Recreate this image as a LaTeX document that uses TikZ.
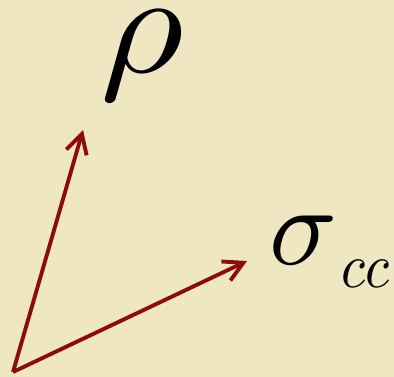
\documentclass[tikz,border=0pt]{standalone}
\usepackage{graphicx}
\usepackage{tikz}
\usetikzlibrary{positioning,arrows.meta}
\definecolor{parch}{RGB}{239,230,194}
\definecolor{vecred}{RGB}{140,12,12}

\begin{document}
\begin{tikzpicture}[x=0.02cm, y=-0.02cm,
    vec/.style={vecred, line width=2.2pt, -{Straight Barb[length=11pt, width=12pt, line width=2.2pt]}},
    lbl/.style={inner sep=0pt, anchor=base west}]
  \fill[parch] (0,0) rectangle (394,377);
  \useasboundingbox (0,0) rectangle (394,377);
  \coordinate (o) at (13,372);
  \coordinate (rhotip) at (83,130);
  \coordinate (sigtip) at (247,261);
  \node[lbl] (rho) at (100,73) {\scalebox{9.2}[8.2]{$\rho$}};
  \node[lbl] (sig) at (269,265)
    {\scalebox{6.4}{$\sigma$}\hspace{2pt}\raisebox{-13pt}{\scalebox{3.15}[3.6]{$cc$}}};
  \draw[vec] (o) -- (rhotip);
  \draw[vec] (o) -- (sigtip);
\end{tikzpicture}
\end{document}
